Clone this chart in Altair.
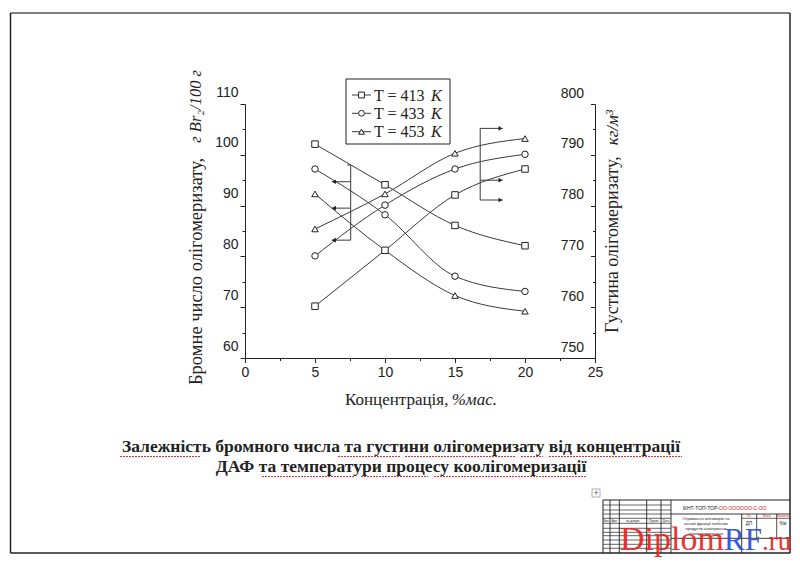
import altair as alt
import pandas as pd

# ---------------- data ----------------
concentration = [5, 10, 15, 20]
temperatures = ["413", "433", "453"]
marker_shapes = ["square", "circle", "triangle-up"]

bromine_413 = [102.1, 94.1, 86.1, 82.1]
bromine_433 = [97.2, 88.2, 76.1, 73.1]
bromine_453 = [92.3, 81.2, 72.3, 69.2]

density_413 = [760.2, 771.2, 782.1, 787.2]
density_433 = [770.1, 780.1, 787.2, 790.1]
density_453 = [775.4, 782.3, 790.3, 793.2]

x_ticks = [0, 2.5, 5, 7.5, 10, 12.5, 15, 17.5, 20, 22.5, 25]
bromine_ticks = [60, 65, 70, 75, 80, 85, 90, 95, 100, 105, 110]
density_ticks = [750, 755, 760, 765, 770, 775, 780, 785, 790, 795, 800]

# bracket arrows (concentration / bromine-axis units)
left_bracket = {"x": 7.55, "tip": 6.2, "top": 98.0, "levels": [94.7, 89.5, 83.2]}
right_bracket = {"x": 16.8, "tip": 18.4, "levels": [105.2, 95.0, 91.1]}

title_line1 = "Залежність бромного числа та густини олігомеризату від концентрації"
title_line2 = "ДАФ та температури процесу коолігомеризації"

# ---------------- tables ----------------
rows = []
for t, bs, ds in zip(temperatures, [bromine_413, bromine_433, bromine_453],
                     [density_413, density_433, density_453]):
    for c, b, d in zip(concentration, bs, ds):
        rows.append({"conc": c, "T": t, "bromine": b, "density": d})
df = pd.DataFrame(rows)

seg = []
lb = left_bracket
seg.append({"conc": lb["x"], "conc2": lb["x"], "bromine": lb["top"], "bromine2": min(lb["levels"])})
seg.append({"conc": lb["x"] - 0.25, "conc2": lb["x"], "bromine": lb["top"], "bromine2": lb["top"]})
for y in lb["levels"]:
    seg.append({"conc": lb["x"], "conc2": lb["tip"], "bromine": y, "bromine2": y})
rb = right_bracket
seg.append({"conc": rb["x"], "conc2": rb["x"], "bromine": max(rb["levels"]), "bromine2": min(rb["levels"])})
for y in rb["levels"]:
    seg.append({"conc": rb["x"], "conc2": rb["tip"], "bromine": y, "bromine2": y})
seg_df = pd.DataFrame(seg)

heads = [{"conc": lb["tip"] + 0.15, "bromine": y, "dir": "L"} for y in lb["levels"]]
heads += [{"conc": rb["tip"] - 0.15, "bromine": y, "dir": "R"} for y in rb["levels"]]
heads_df = pd.DataFrame(heads)

# ---------------- layout ----------------
W, H = 350, 254
X0, Y0 = 245, 104          # page position of the plot origin
INK = "#222222"
LINE = "#3a3a3a"
SANS = "Liberation Sans"
SERIF = "Liberation Serif"

x_axis = alt.Axis(
    values=x_ticks, labelExpr="datum.value % 5 == 0 ? datum.label : ''",
    tickSize={"condition": {"test": "datum.value % 5 != 0", "value": 2.5}, "value": 4.5},
    title=None, grid=False, domainColor=INK, tickColor=INK, labelColor=INK,
    labelFont=SANS, labelFontSize=14, labelPadding=3, labelFlush=False, labelOverlap=False)
X = alt.X("conc:Q", scale=alt.Scale(domain=[0, 25], nice=False, zero=False), axis=x_axis)

b_scale = alt.Scale(domain=[60, 110], nice=False, zero=False)
d_scale = alt.Scale(domain=[750, 800], nice=False, zero=False)

b_axis = alt.Axis(
    orient="left", values=bromine_ticks, labelExpr="datum.value % 10 == 0 ? datum.label : ''",
    tickSize={"condition": {"test": "datum.value % 10 != 0", "value": 3}, "value": 5},
    title=None, grid=False, domainColor=INK, tickColor=INK, labelColor=INK,
    labelFont=SANS, labelFontSize=14, labelPadding=2, labelOffset=-12,
    labelFlush=False, labelOverlap=False)
d_axis = alt.Axis(
    orient="left", offset=-W, values=density_ticks,
    labelExpr="datum.value % 10 == 0 ? datum.label : ''",
    tickSize={"condition": {"test": "datum.value % 10 != 0", "value": 2.5}, "value": 4.5},
    title=None, grid=False, domainColor=INK, tickColor=INK, labelColor=INK,
    labelFont=SANS, labelFontSize=14, labelPadding=7, labelOffset=-11,
    labelFlush=False, labelOverlap=False)

YB = alt.Y("bromine:Q", scale=b_scale, axis=b_axis)
YB0 = alt.Y("bromine:Q", scale=b_scale, axis=None)
YD = alt.Y("density:Q", scale=d_scale, axis=d_axis)
YD0 = alt.Y("density:Q", scale=d_scale, axis=None)

line_kw = dict(interpolate="monotone", color=LINE, strokeWidth=1)
b_lines = alt.Chart(df).mark_line(**line_kw).encode(x=X, y=YB, detail="T:N")
d_lines = alt.Chart(df).mark_line(**line_kw).encode(x=X, y=YD, detail="T:N")

pt_kw = dict(filled=True, fill="white", stroke=INK, strokeWidth=1, size=42, opacity=1)
order = list(zip(temperatures, marker_shapes))[::-1]
b_pts = [alt.Chart(df).transform_filter(alt.datum.T == t).mark_point(shape=s, **pt_kw)
         .encode(x=X, y=YB0) for t, s in order]
d_pts = [alt.Chart(df).transform_filter(alt.datum.T == t).mark_point(shape=s, **pt_kw)
         .encode(x=X, y=YD0) for t, s in order]

arrows = alt.Chart(seg_df).mark_rule(color=LINE, strokeWidth=1).encode(
    x=X, x2="conc2:Q", y=YB0, y2="bromine2:Q")
heads_l = alt.Chart(heads_df).transform_filter(alt.datum.dir == "L").mark_point(
    shape="triangle-left", filled=True, color=INK, size=22, opacity=1).encode(x=X, y=YB0)
heads_r = alt.Chart(heads_df).transform_filter(alt.datum.dir == "R").mark_point(
    shape="triangle-right", filled=True, color=INK, size=22, opacity=1).encode(x=X, y=YB0)

# ---------------- decorations (page coordinates) ----------------
one = pd.DataFrame({"k": [0]})


def hline(x1, x2, y, color=INK, w=1.0, dash=None):
    kw = dict(color=color, strokeWidth=w)
    if dash:
        kw["strokeDash"] = dash
    return alt.Chart(one).mark_rule(**kw).encode(
        x=alt.value(x1 - X0), x2=alt.value(x2 - X0), y=alt.value(y - Y0))


def vline(x, y1, y2, color=INK, w=1.0):
    return alt.Chart(one).mark_rule(color=color, strokeWidth=w).encode(
        x=alt.value(x - X0), y=alt.value(y1 - Y0), y2=alt.value(y2 - Y0))


def label(s, x, y, size=10, font=SERIF, color=INK, align="left", baseline="middle",
          angle=0, style="normal", weight="normal", opacity=1.0):
    return alt.Chart(one).mark_text(
        text=s, font=font, fontSize=size, color=color, align=align, baseline=baseline,
        angle=angle, fontStyle=style, fontWeight=weight, opacity=opacity).encode(
        x=alt.value(x - X0), y=alt.value(y - Y0))


decor = []
# page frame
decor += [hline(10.5, 790, 13, color="#555555", w=1.3), vline(10.5, 13, 553, w=1.5),
          vline(790, 13, 553, w=1.5), hline(10.5, 790, 553, w=1.5)]

# legend
decor.append(alt.Chart(one).mark_rect(fill="white", stroke=INK, strokeWidth=1).encode(
    x=alt.value(346 - X0), x2=alt.value(450 - X0), y=alt.value(79 - Y0), y2=alt.value(144 - Y0)))
for (t, s), yrow in zip(zip(temperatures, marker_shapes), [95, 113.3, 131.7]):
    decor.append(hline(352, 371, yrow, color=LINE))
    decor.append(alt.Chart(one).mark_point(shape=s, filled=True, fill="white", stroke=INK,
                                           strokeWidth=1, size=34, opacity=1).encode(
        x=alt.value(361.5 - X0), y=alt.value(yrow - Y0)))
    decor.append(label("T = " + t, 374, yrow + 0.5, size=16))
    decor.append(label("K", 431, yrow + 0.5, size=16, style="italic"))

# axis titles
decor.append(label("Бромне число олігомеризату,", 196, 385, size=18.5, angle=270))
decor.append(label("г Br₂/100 г", 196, 70, size=16.5, angle=270, align="right", style="italic"))
decor.append(label("Густина олігомеризату,", 613, 333, size=18, angle=270))
decor.append(label("кг/м³", 613, 110, size=17, angle=270, align="right", style="italic"))
decor.append(label("Концентрація,", 345, 405, size=17, baseline="alphabetic"))
decor.append(label("%мас.", 497, 405, size=17, baseline="alphabetic", align="right", style="italic"))

# caption
decor.append(label(title_line1, 401, 452, size=17.5, align="center", baseline="alphabetic", weight="bold"))
decor.append(label(title_line2, 401, 472, size=17.5, align="center", baseline="alphabetic", weight="bold"))
for x1, x2, y in [(120, 200, 456.5), (338, 400, 456.5), (405, 516, 456.5), (521, 543, 456.5),
                  (549, 682, 456.5), (262, 355, 476.5), (361, 428, 476.5), (434, 586, 476.5)]:
    decor.append(hline(x1, x2, y, color="#e03030", w=1, dash=[2, 1]))

# table handle
decor.append(alt.Chart(one).mark_rect(fill="white", stroke="#999999", strokeWidth=0.8).encode(
    x=alt.value(592 - X0), x2=alt.value(600 - X0), y=alt.value(489 - Y0), y2=alt.value(497 - Y0)))
decor.append(label("+", 596, 493, size=9, font=SANS, color="#555555", align="center"))

# title block (stamp)
decor += [hline(603, 790, 500), vline(603, 500, 553)]
for x in [610, 619.3, 646.7, 661, 671]:
    decor.append(vline(x, 500, 553, w=0.9))
for y in [505, 510, 514, 518.3, 523.3, 528.3, 532.3, 535.7, 540, 544.3, 548.3]:
    decor.append(hline(603, 671, y, w=0.7))
decor += [hline(671, 790, 514, w=0.9), hline(671, 790, 538.3, w=0.9),
          vline(741.7, 514, 553, w=0.9), vline(756.7, 514, 538.3, w=0.8),
          vline(776.7, 514, 538.3, w=0.8), hline(741.7, 790, 518.3, w=0.7)]
decor.append(label("ІКНТ-ТОП-ТОР-", 719, 507.5, size=5, font=SANS, align="right"))
decor.append(label("ОО-ОООООО-С-ОО", 719, 507.5, size=5, font=SANS, color="#d02020"))
for i, s in enumerate(["Отримання олігомерів на", "основі фракції побічних",
                       "продуктів алкілування", "коолігомеризацією"]):
    decor.append(label(s, 706, 518.5 + 5 * i, size=4, font=SANS, align="center"))
for s, x in [("Літ.", 749), ("Маса", 766.7), ("Масштаб", 783.3)]:
    decor.append(label(s, x, 516.2, size=3.2, font=SANS, align="center", color="#d02020"))
decor.append(label("ДП", 749, 524, size=4.5, font=SANS, align="center"))
decor.append(label("б/м", 783, 524, size=4.5, font=SANS, align="center"))
for s, x in [("Змн.", 606.5), ("Арк.", 614.7), ("№ докум.", 633), ("Підпис", 653.8), ("Дата", 666)]:
    decor.append(label(s, x, 520.8, size=3.2, font=SANS, align="center"))

# watermark
decor.append(label("Diplom", 620, 550, size=34, color="#e52424", baseline="alphabetic", opacity=0.92))
decor.append(label("RF", 724, 550, size=31, color="#2a4fcf", baseline="alphabetic", opacity=0.92))
decor.append(label(".ru", 762, 550, size=27, color="#e52424", baseline="alphabetic", opacity=0.92))

chart = alt.layer(
    b_lines, d_lines, *b_pts, *d_pts, arrows, heads_l, heads_r, *decor
).resolve_scale(y="independent").properties(
    width=W, height=H,
    padding={"left": X0 - 8, "top": Y0 - 8, "right": 784 - (X0 - 8) - W, "bottom": 549 - (Y0 - 8) - H},
    autosize=alt.AutoSizeParams(type="none"),
    background="white",
).configure_view(stroke=None)

chart.save("out.html", embed_options={"renderer": "svg", "actions": False})
